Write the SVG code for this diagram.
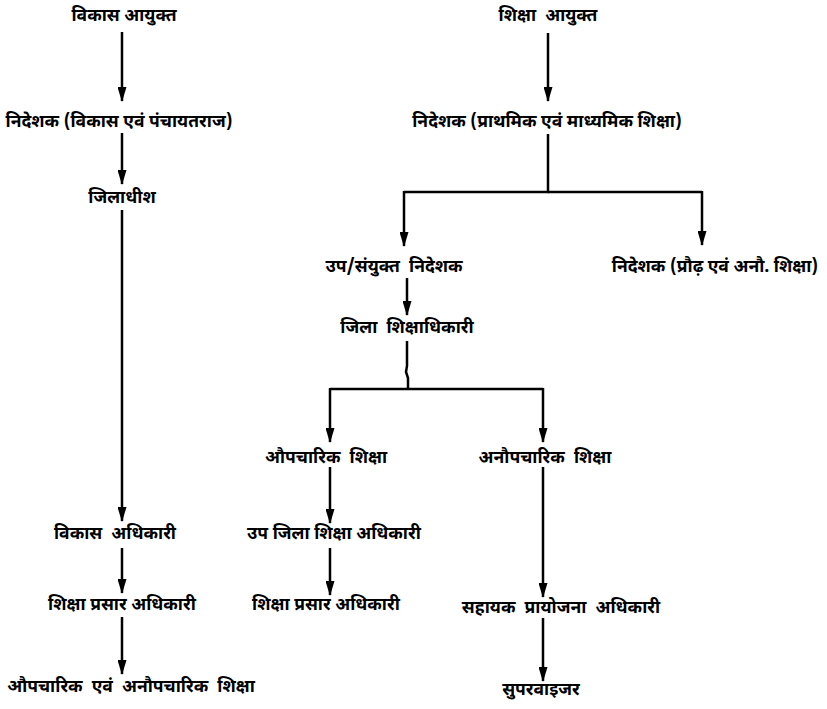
<svg xmlns="http://www.w3.org/2000/svg" width="827" height="709" viewBox="0 0 827 709">
<defs>
<marker id="ah" markerWidth="15" markerHeight="9" refX="14" refY="4.5" orient="auto" markerUnits="userSpaceOnUse" viewBox="0 0 15 9">
<path d="M0,0 L15,4.5 L0,9 Z" fill="#000"/>
</marker>
<style>
text{font-family:"Noto Sans Devanagari","Noto Sans","Lohit Devanagari","DejaVu Sans",sans-serif;font-size:17.5px;font-weight:bold;fill:#000;text-anchor:middle;dominant-baseline:central;white-space:pre}
.c{fill:none;stroke:#000;stroke-width:2.5}
.a{marker-end:url(#ah)}
</style>
</defs>
<rect width="827" height="709" fill="#fff"/>
<g id="connectors">
<line class="c a" x1="122" y1="32" x2="122" y2="101"/>
<line class="c a" x1="122" y1="133" x2="122" y2="184"/>
<line class="c a" x1="122" y1="210" x2="122" y2="521"/>
<line class="c a" x1="122" y1="548" x2="122" y2="593"/>
<line class="c a" x1="122" y1="617" x2="122" y2="674"/>
<line class="c a" x1="548" y1="33" x2="548" y2="101"/>
<polyline class="c" points="548,134 548,192 404,192"/>
<polyline class="c" points="548,192 702,192"/>
<line class="c a" x1="404" y1="191" x2="404" y2="246"/>
<line class="c a" x1="702" y1="191" x2="702" y2="245"/>
<line class="c a" x1="407" y1="278" x2="407" y2="315"/>
<polyline class="c" points="407,341 407,366 406,372 408,378 408,389"/>
<polyline class="c" points="330,389 543,389"/>
<line class="c a" x1="330" y1="388" x2="330" y2="442"/>
<line class="c a" x1="543" y1="388" x2="543" y2="442"/>
<line class="c a" x1="330" y1="467" x2="330" y2="523"/>
<line class="c a" x1="330" y1="548" x2="330" y2="595"/>
<line class="c a" x1="543" y1="467" x2="543" y2="597"/>
<line class="c a" x1="543" y1="618" x2="543" y2="681"/>
</g>
<g id="n1"><text x="124" y="16">विकास आयुक्त</text></g>
<g id="n2"><text x="119" y="122">निदेशक (विकास एवं पंचायतराज)</text></g>
<g id="n3"><text x="122" y="198">जिलाधीश</text></g>
<g id="n4"><text x="115" y="534">विकास  अधिकारी</text></g>
<g id="n5"><text x="122" y="605">शिक्षा प्रसार अधिकारी</text></g>
<g id="n6"><text x="131" y="687">औपचारिक  एवं  अनौपचारिक  शिक्षा</text></g>
<g id="m1"><text x="548" y="16">शिक्षा  आयुक्त</text></g>
<g id="m2"><text x="547" y="122">निदेशक (प्राथमिक एवं माध्यमिक शिक्षा)</text></g>
<g id="m3"><text x="394" y="267">उप/संयुक्त  निदेशक</text></g>
<g id="m4"><text x="715" y="267">निदेशक (प्रौढ़ एवं अनौ. शिक्षा)</text></g>
<g id="m5"><text x="407" y="328">जिला  शिक्षाधिकारी</text></g>
<g id="m6"><text x="326" y="458">औपचारिक  शिक्षा</text></g>
<g id="m7"><text x="545" y="458">अनौपचारिक  शिक्षा</text></g>
<g id="m8"><text x="334" y="534">उप जिला शिक्षा अधिकारी</text></g>
<g id="m9"><text x="326" y="605">शिक्षा प्रसार अधिकारी</text></g>
<g id="m10"><text x="561" y="608">सहायक  प्रायोजना  अधिकारी</text></g>
<g id="m11"><text x="541" y="690">सुपरवाइजर</text></g>
</svg>
